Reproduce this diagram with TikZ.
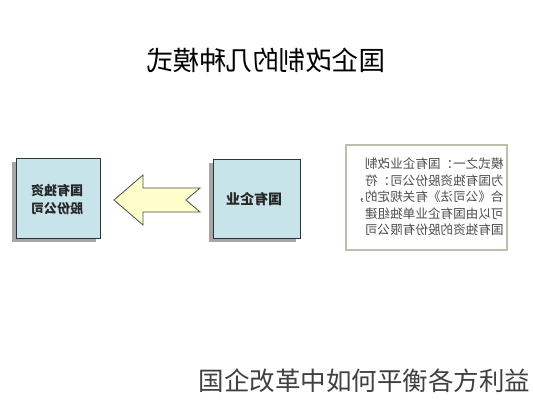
\documentclass[tikz,border=0pt]{standalone}
\usepackage{fontspec}
\newfontfamily\cjk{Noto Sans CJK SC}
\definecolor{boxblue}{RGB}{198,228,234}
\definecolor{arrowyellow}{RGB}{255,255,204}
\definecolor{framegray}{RGB}{190,190,170}
\tikzset{
  mirror/.style={xscale=-1},
  boxshadow/.style={fill=gray!70},
  bluebox/.style={draw=black!80, line width=0.9pt, fill=boxblue},
  boxtext/.style={font=\cjk\bfseries\fontsize{13}{18}\selectfont, text=black!85, align=center, mirror},
}
\begin{document}
\begin{tikzpicture}[x=1pt,y=-1pt]
\useasboundingbox (0,0) rectangle (533,400);
\fill[white] (0,0) rectangle (533,400);
% title (mirrored)
\node[mirror, font=\cjk\fontsize{26.5}{30}\selectfont, text=black] (title) at (266,60) {国企改制的几种模式};
% left box
\fill[boxshadow] (12,162) rectangle (96,242);
\draw[bluebox] (16,158) rectangle (100,238);
\node[boxtext] (lefttext) at (57,200) {国有独资\\股份公司};
% right box
\fill[boxshadow] (209,163) rectangle (296,242);
\draw[bluebox] (213,159) rectangle (300,238);
\node[boxtext, font=\cjk\bfseries\fontsize{14}{18}\selectfont] (righttext) at (254,199) {国有企业};
% arrow
\draw[fill=arrowyellow, draw=black!70, line width=0.8pt, line join=miter]
  (114,200) -- (143,175) -- (143,188) -- (200,188) -- (186,200) -- (200,212) -- (143,212) -- (143,225) -- cycle;
% text box
\draw[draw=framegray, line width=1.2pt, fill=white] (346,145) rectangle (507,250);
\node[mirror, font=\cjk\fontsize{12.6}{16.5}\selectfont, text=black!70, align=left] (desc) at (428,197)
  {模式之一：国有企业改制\\为国有独资股份公司：符\\合《公司法》有关规定的，\\可以由国有企业单独组建\\国有独资的股份有限公司};
% bottom caption
\node[font=\cjk\fontsize{25.5}{28}\selectfont, text=black!75, anchor=east] (caption) at (534,381) {国企改革中如何平衡各方利益};
\end{tikzpicture}
\end{document}
